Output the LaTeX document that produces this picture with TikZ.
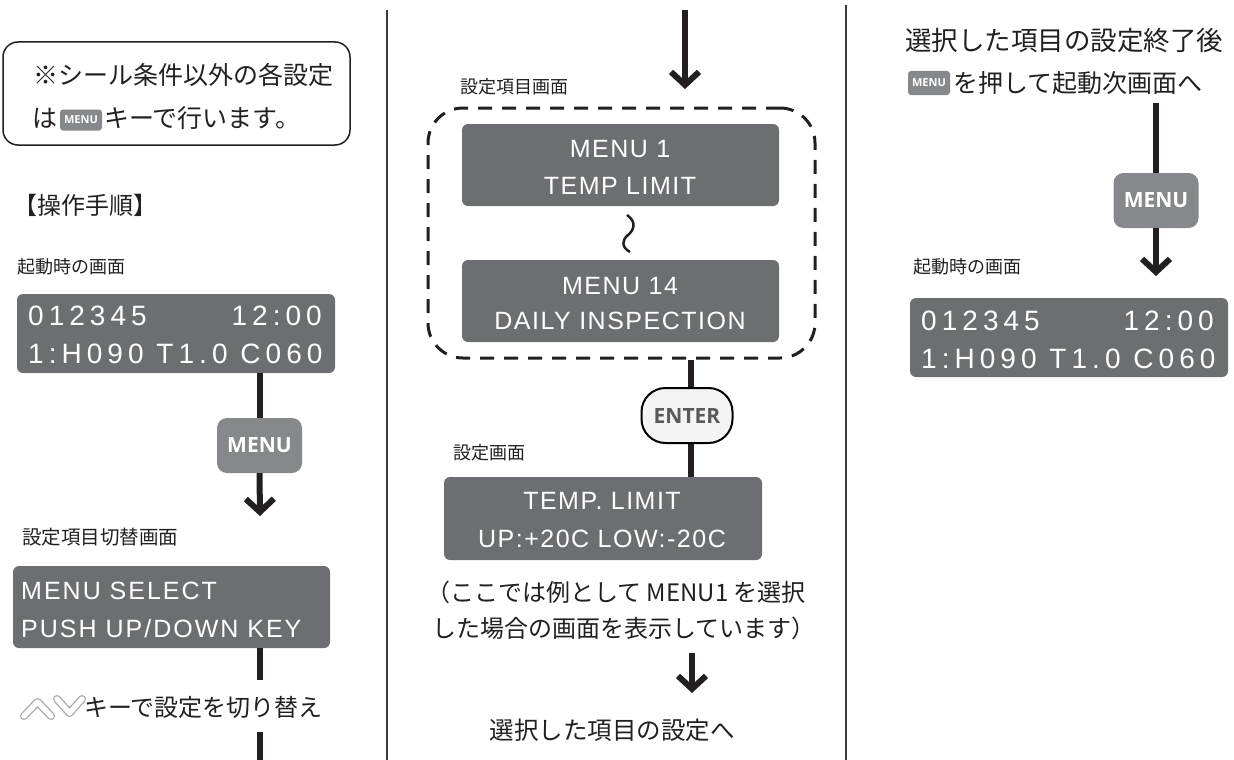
\documentclass[tikz,border=0pt]{standalone}
\usepackage{fontspec}
\setmainfont{Liberation Serif}
\newfontfamily\jp{Noto Sans CJK JP}
\newfontfamily\lcdwide{Liberation Sans}[LetterSpace=18]
\newfontfamily\lcdmid{Liberation Sans}[LetterSpace=6]
\newfontfamily\lcdsel{Liberation Sans}[LetterSpace=8]
\newfontfamily\btnf{Open Sans}
\usetikzlibrary{arrows.meta}

\definecolor{lcdgray}{HTML}{6D6E71}
\definecolor{btngray}{HTML}{87888B}
\definecolor{entfill}{HTML}{F4F4F4}
\definecolor{enttext}{HTML}{58595B}
\definecolor{ink}{HTML}{231F20}
\definecolor{sepline}{HTML}{3A3A3A}
\definecolor{keygray}{HTML}{A8A8A8}

\newcommand\fs[1]{\fontsize{#1}{#1}\selectfont}

\tikzset{
  lcd/.style={fill=lcdgray, draw=none, rounded corners=6pt, inner sep=0pt},
  lcdw/.style={text=white, inner sep=0pt, font=\lcdwide\fs{28}},
  lcdm/.style={text=white, inner sep=0pt, font=\lcdmid\fs{25}},
  lcds/.style={text=white, inner sep=0pt, font=\lcdsel\fs{25}},
  jtext/.style={text=ink, inner sep=0pt, anchor=west, font=\jp\fs{24}},
  label/.style={text=ink, inner sep=0pt, anchor=west, font=\jp\fs{18}},
  menubtn/.style={fill=btngray, rounded corners=10pt, minimum width=85pt, minimum height=55pt, inner sep=0pt, text=white, font=\btnf\bfseries\fs{21}},
  enterbtn/.style={fill=entfill, draw=black, line width=2pt, rounded corners=24pt, minimum width=91pt, minimum height=55pt, inner sep=0pt, text=enttext, font=\btnf\bfseries\fs{21}},
  badge/.style={fill=btngray, rounded corners=3pt, minimum width=42pt, inner sep=0pt, text=white, font=\btnf\bfseries\fs{11}},
  conn/.style={line width=6pt, draw=ink},
  arr/.style={conn, -{Straight Barb[length=13pt,width=28pt,line width=6pt]}},
  sep/.style={line width=1.2pt, draw=sepline},
  groupbox/.style={draw=ink, line width=3pt, dash pattern=on 14pt off 10pt, rounded corners=35pt, minimum width=387pt, minimum height=250pt, inner sep=0pt},
  notebox/.style={draw=ink, line width=1.5pt, rounded corners=15pt, minimum width=347pt, minimum height=103pt, inner sep=0pt},
  keyout/.style={draw=keygray, line width=8pt, line cap=round, line join=round},
  keyin/.style={draw=white, line width=5.4pt, line cap=round, line join=round}
}

\begin{document}
\begin{tikzpicture}[x=1pt,y=-1pt]
\useasboundingbox (0,0) rectangle (1234,760);

% separators
\draw[sep] (387,10) -- (387,760);
\draw[sep] (846,5) -- (846,760);

% ===== left column =====
\node[notebox] (note) at (176.5,93.5) {};
\node[jtext, font=\jp\fs{25}] (n1) at (33,75) {※シール条件以外の各設定};
\node[jtext, font=\jp\fs{25}] (n2a) at (32,118) {は};
\node[badge, minimum height=21pt] (b1) at (81,120) {MENU};
\node[jtext, font=\jp\fs{25}] (n2b) at (104,118) {キーで行います。};

\node[jtext] (proc) at (13,205) {【操作手順】};

\node[label] (l1) at (17,267) {起動時の画面};
\node[lcd, minimum width=318pt, minimum height=79pt] (lcd1) at (176,333.5) {};
\node[lcdw, anchor=base west] (lcd1a) at (28,325) {012345};
\node[lcdw, anchor=base east] (lcd1b) at (322,325) {12:00};
\node[lcdw, anchor=base west] (lcd1c) at (28,363) {1:H090 T1.0 C060};

\node[menubtn] (menu1) at (259.5,445.5) {MENU};
\coordinate (a1) at (260,516);
\draw[conn] (lcd1.south -| menu1) -- (menu1.north);
\draw[arr] (menu1.south) -- (a1);

\node[label, font=\jp\fs{19.5}] (l2) at (22,537) {設定項目切替画面};
\node[lcd, minimum width=317pt, minimum height=82pt] (lcd2) at (171.5,607) {};
\node[lcds, anchor=base west] (lcd2a) at (21,599) {MENU SELECT};
\node[lcds, anchor=base west] (lcd2b) at (21,637) {PUSH UP/DOWN KEY};

\coordinate (k1) at (260,680);
\draw[conn] (lcd2.south -| k1) -- (k1);
\draw[keyout] (24,716) -- (37.5,702) -- (51,716);
\draw[keyin]  (24,716) -- (37.5,702) -- (51,716);
\draw[keyout] (57,699) -- (69.5,713) -- (82,699);
\draw[keyin]  (57,699) -- (69.5,713) -- (82,699);
\node[jtext] (keys) at (84,707) {キーで設定を切り替え};
\coordinate (k2) at (260,732);
\coordinate (k3) at (260,760);
\draw[conn] (k2) -- (k3);

% ===== middle column =====
\coordinate (mtop) at (685,10);
\coordinate (mtip) at (685,89);
\draw[arr] (mtop) -- (mtip);
\node[label] (l3) at (460,87) {設定項目画面};
\node[groupbox] (grp) at (621.5,233) {};
\node[lcd, minimum width=317pt, minimum height=82pt] (m1) at (620.5,165) {};
\node[lcdm, anchor=base] (m1a) at (620,157) {MENU 1};
\node[lcdm, anchor=base] (m1b) at (620,194) {TEMP LIMIT};
\draw[ink, line width=2.5pt] (627,215) .. controls (637,222) and (634,230) .. (628,235) .. controls (622,240) and (621,247) .. (630,252);
\node[lcd, minimum width=317pt, minimum height=82pt] (m14) at (620.5,301) {};
\node[lcdm, anchor=base] (m14a) at (620,294) {MENU 14};
\node[lcdm, anchor=base] (m14b) at (620,329) {DAILY INSPECTION};

\coordinate (ex) at (691,0);
\node[enterbtn] (enter) at (687,415.5) {ENTER};
\draw[conn] (grp.south -| ex) -- (enter.north -| ex);
\node[label] (l4) at (453,453) {設定画面};
\node[lcd, minimum width=318pt, minimum height=83pt] (lcd3) at (603,518.5) {};
\draw[conn] (enter.south -| ex) -- (lcd3.north -| ex);
\node[lcdm, anchor=base] (lcd3a) at (602,509) {TEMP. LIMIT};
\node[lcdm, anchor=base] (lcd3b) at (602,547) {UP:+20C LOW:-20C};

\node[jtext] (ex1) at (426,592) {（ここでは例として MENU1 を選択};
\node[jtext] (ex2) at (432,628) {した場合の画面を表示しています）};
\coordinate (a3s) at (692,653);
\coordinate (a3t) at (692,693);
\draw[arr] (a3s) -- (a3t);
\node[jtext, anchor=center, font=\jp\fs{24.5}] (next) at (612,730) {選択した項目の設定へ};

% ===== right column =====
\node[jtext, font=\jp\fs{26.5}] (r1) at (905,40) {選択した項目の設定終了後};
\node[badge, minimum height=24pt] (b2) at (929,83) {MENU};
\node[jtext, font=\jp\fs{25}] (r2) at (953,83) {を押して起動次画面へ};
\coordinate (r3) at (1156,103);
\node[menubtn] (menu2) at (1156,200.5) {MENU};
\draw[conn] (r3) -- (menu2.north);
\coordinate (a4) at (1156,276);
\draw[arr] (menu2.south) -- (a4);
\node[label] (l5) at (913,267) {起動時の画面};
\node[lcd, minimum width=318pt, minimum height=79pt] (lcd4) at (1069,337.5) {};
\node[lcdw, anchor=base west] (lcd4a) at (921,330) {012345};
\node[lcdw, anchor=base east] (lcd4b) at (1214,330) {12:00};
\node[lcdw, anchor=base west] (lcd4c) at (921,368) {1:H090 T1.0 C060};
\end{tikzpicture}
\end{document}
